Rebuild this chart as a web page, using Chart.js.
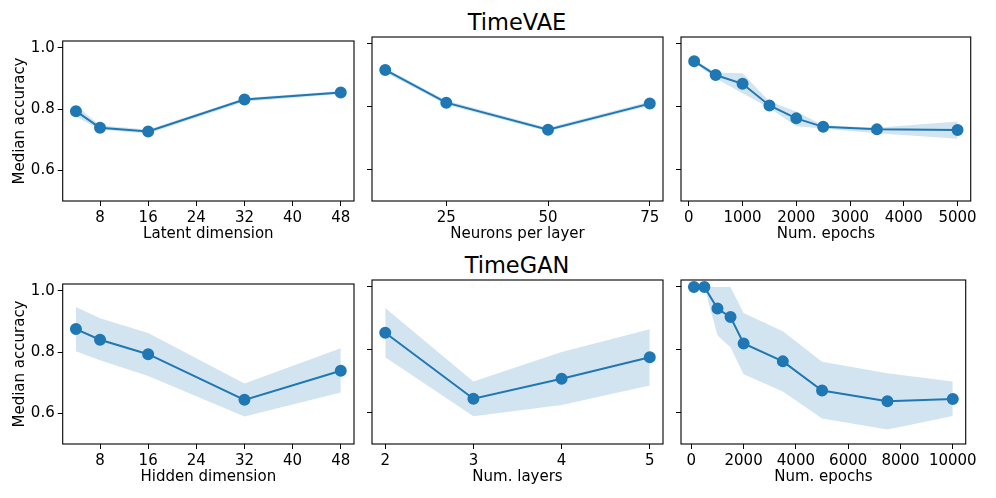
<!DOCTYPE html>
<html>
<head>
<meta charset="utf-8">
<script src="https://cdn.jsdelivr.net/npm/chart.js@4"></script>
<style>
  body { margin: 0; background: #fff; width: 996px; height: 498px; position: relative; overflow: hidden; font-family: "DejaVu Sans", sans-serif; }
  canvas { position: absolute; }
  .title { position: absolute; font-size: 22.5px; color: #000; transform: translate(-50%, -50%); white-space: nowrap; }
</style>
</head>
<body>
<div class="title" style="left:517px; top:22px">TimeVAE</div>
<div class="title" style="left:517px; top:265px">TimeGAN</div>
<canvas id="c0"></canvas>
<canvas id="c1"></canvas>
<canvas id="c2"></canvas>
<canvas id="c3"></canvas>
<canvas id="c4"></canvas>
<canvas id="c5"></canvas>
<script>
// TimeVAE
const latentDim = [4, 8, 16, 32, 48];
const latentAcc = [0.793, 0.739, 0.727, 0.831, 0.854];
const latentLow = [0.775, 0.733, 0.720, 0.824, 0.849];
const latentHigh = [0.812, 0.746, 0.733, 0.836, 0.859];

const neurons = [10, 25, 50, 75];
const neuronsAcc = [0.917, 0.813, 0.727, 0.810];
const neuronsLow = [0.910, 0.806, 0.721, 0.803];
const neuronsHigh = [0.923, 0.820, 0.733, 0.817];

const vaeEpochs = [100, 500, 1000, 1500, 2000, 2500, 3500, 5000];
const vaeEpochAcc = [0.945, 0.901, 0.873, 0.804, 0.763, 0.736, 0.728, 0.726];
const vaeEpochLow = [0.940, 0.891, 0.843, 0.796, 0.738, 0.731, 0.716, 0.698];
const vaeEpochHigh = [0.950, 0.909, 0.907, 0.817, 0.785, 0.741, 0.733, 0.753];

// TimeGAN
const hiddenDim = [4, 8, 16, 32, 48];
const hiddenAcc = [0.875, 0.840, 0.793, 0.644, 0.739];
const hiddenLow = [0.803, 0.773, 0.722, 0.590, 0.668];
const hiddenHigh = [0.947, 0.910, 0.862, 0.697, 0.812];

const layers = [2, 3, 4, 5];
const layersAcc = [0.854, 0.644, 0.708, 0.776];
const layersLow = [0.776, 0.588, 0.624, 0.686];
const layersHigh = [0.933, 0.699, 0.793, 0.865];

const ganEpochs = [100, 500, 1000, 1500, 2000, 3500, 5000, 7500, 10000];
const ganEpochAcc = [1.0, 1.0, 0.931, 0.904, 0.820, 0.763, 0.670, 0.636, 0.643];
const ganEpochLow = [1.0, 1.0, 0.846, 0.807, 0.722, 0.667, 0.581, 0.546, 0.589];
const ganEpochHigh = [1.0, 1.0, 1.0, 1.0, 0.917, 0.859, 0.762, 0.725, 0.699];

// tick labels
const dimTicks = [8, 16, 24, 32, 40, 48];
const neuronTicks = [25, 50, 75];
const vaeEpochTicks = [0, 1000, 2000, 3000, 4000, 5000];
const layerTicks = [2, 3, 4, 5];
const ganEpochTicks = [0, 2000, 4000, 6000, 8000, 10000];
const accTicks = [0.6, 0.8, 1.0];

const blue = '#1f77b4';
const band = 'rgba(31,119,180,0.2)';
const font = { family: 'DejaVu Sans', size: 15 };

// plot areas (left, right, top, bottom) in page pixels
const cols = [[62.7, 354], [371.7, 663], [680.7, 971.7]];
const rows = [[37, 201], [280, 444]];
const padTop = 8, padRight = 8, xAxisH = 46;

const boxPlugin = {
  id: 'box',
  afterDraw(chart) {
    const a = chart.chartArea, ctx = chart.ctx;
    ctx.save();
    ctx.strokeStyle = '#000';
    ctx.lineWidth = 1.1;
    ctx.strokeRect(a.left, a.top, a.right - a.left, a.bottom - a.top);
    ctx.restore();
  }
};

function pts(xs, ys) { return xs.map((x, i) => ({ x: x, y: ys[i] })); }

function makePanel(id, col, row, xs, acc, lo, hi, xTicks, xLabel) {
  const first = col === 0;
  const yW = first ? cols[0][0] : 12;
  const [L, R] = cols[col], [T, B] = rows[row];
  const cv = document.getElementById(id);
  const w = Math.round(R - L + yW + padRight), h = Math.round(B - T + padTop + xAxisH);
  cv.style.left = (L - yW) + 'px';
  cv.style.top = (T - padTop) + 'px';
  cv.width = w; cv.height = h;
  cv.style.width = w + 'px'; cv.style.height = h + 'px';
  const span = xs[xs.length - 1] - xs[0];
  new Chart(cv, {
    type: 'line',
    data: {
      datasets: [
        { data: pts(xs, acc), borderColor: blue, backgroundColor: blue, borderWidth: 2,
          pointRadius: 5, pointHoverRadius: 5, fill: false, tension: 0 },
        { data: pts(xs, hi), borderWidth: 0, pointRadius: 0, backgroundColor: band, fill: '+1', tension: 0 },
        { data: pts(xs, lo), borderWidth: 0, pointRadius: 0, fill: false, tension: 0 }
      ]
    },
    options: {
      responsive: false,
      animation: false,
      devicePixelRatio: 1,
      layout: { padding: { top: padTop, right: padRight, left: 0, bottom: 0 } },
      plugins: { legend: { display: false }, tooltip: { enabled: false } },
      scales: {
        x: {
          type: 'linear',
          min: xs[0] - 0.05 * span,
          max: xs[xs.length - 1] + 0.05 * span,
          afterBuildTicks: ax => { ax.ticks = xTicks.map(v => ({ value: v })); },
          afterFit: ax => { ax.height = xAxisH; },
          grid: { drawOnChartArea: false, drawTicks: true, tickLength: 5, color: '#000', tickWidth: 1 },
          border: { display: false },
          ticks: { color: '#000', font: font, padding: 3, maxRotation: 0, autoSkip: false, callback: v => String(v) },
          title: { display: true, text: xLabel, color: '#000', font: font, padding: { top: 2, bottom: 4 } }
        },
        y: {
          min: 0.5,
          max: 1.022,
          afterBuildTicks: ax => { ax.ticks = accTicks.map(v => ({ value: v })); },
          afterFit: ax => { ax.width = yW; },
          grid: { drawOnChartArea: false, drawTicks: true, tickLength: 5, color: '#000', tickWidth: 1 },
          border: { display: false },
          ticks: { display: first, color: '#000', font: font, padding: 3, callback: v => v.toFixed(1) },
          title: { display: first, text: 'Median accuracy', color: '#000', font: font, padding: { top: 11, bottom: 4 } }
        }
      }
    },
    plugins: [boxPlugin]
  });
}

makePanel('c0', 0, 0, latentDim, latentAcc, latentLow, latentHigh, dimTicks, 'Latent dimension');
makePanel('c1', 1, 0, neurons, neuronsAcc, neuronsLow, neuronsHigh, neuronTicks, 'Neurons per layer');
makePanel('c2', 2, 0, vaeEpochs, vaeEpochAcc, vaeEpochLow, vaeEpochHigh, vaeEpochTicks, 'Num. epochs');
makePanel('c3', 0, 1, hiddenDim, hiddenAcc, hiddenLow, hiddenHigh, dimTicks, 'Hidden dimension');
makePanel('c4', 1, 1, layers, layersAcc, layersLow, layersHigh, layerTicks, 'Num. layers');
makePanel('c5', 2, 1, ganEpochs, ganEpochAcc, ganEpochLow, ganEpochHigh, ganEpochTicks, 'Num. epochs');
</script>
</body>
</html>
